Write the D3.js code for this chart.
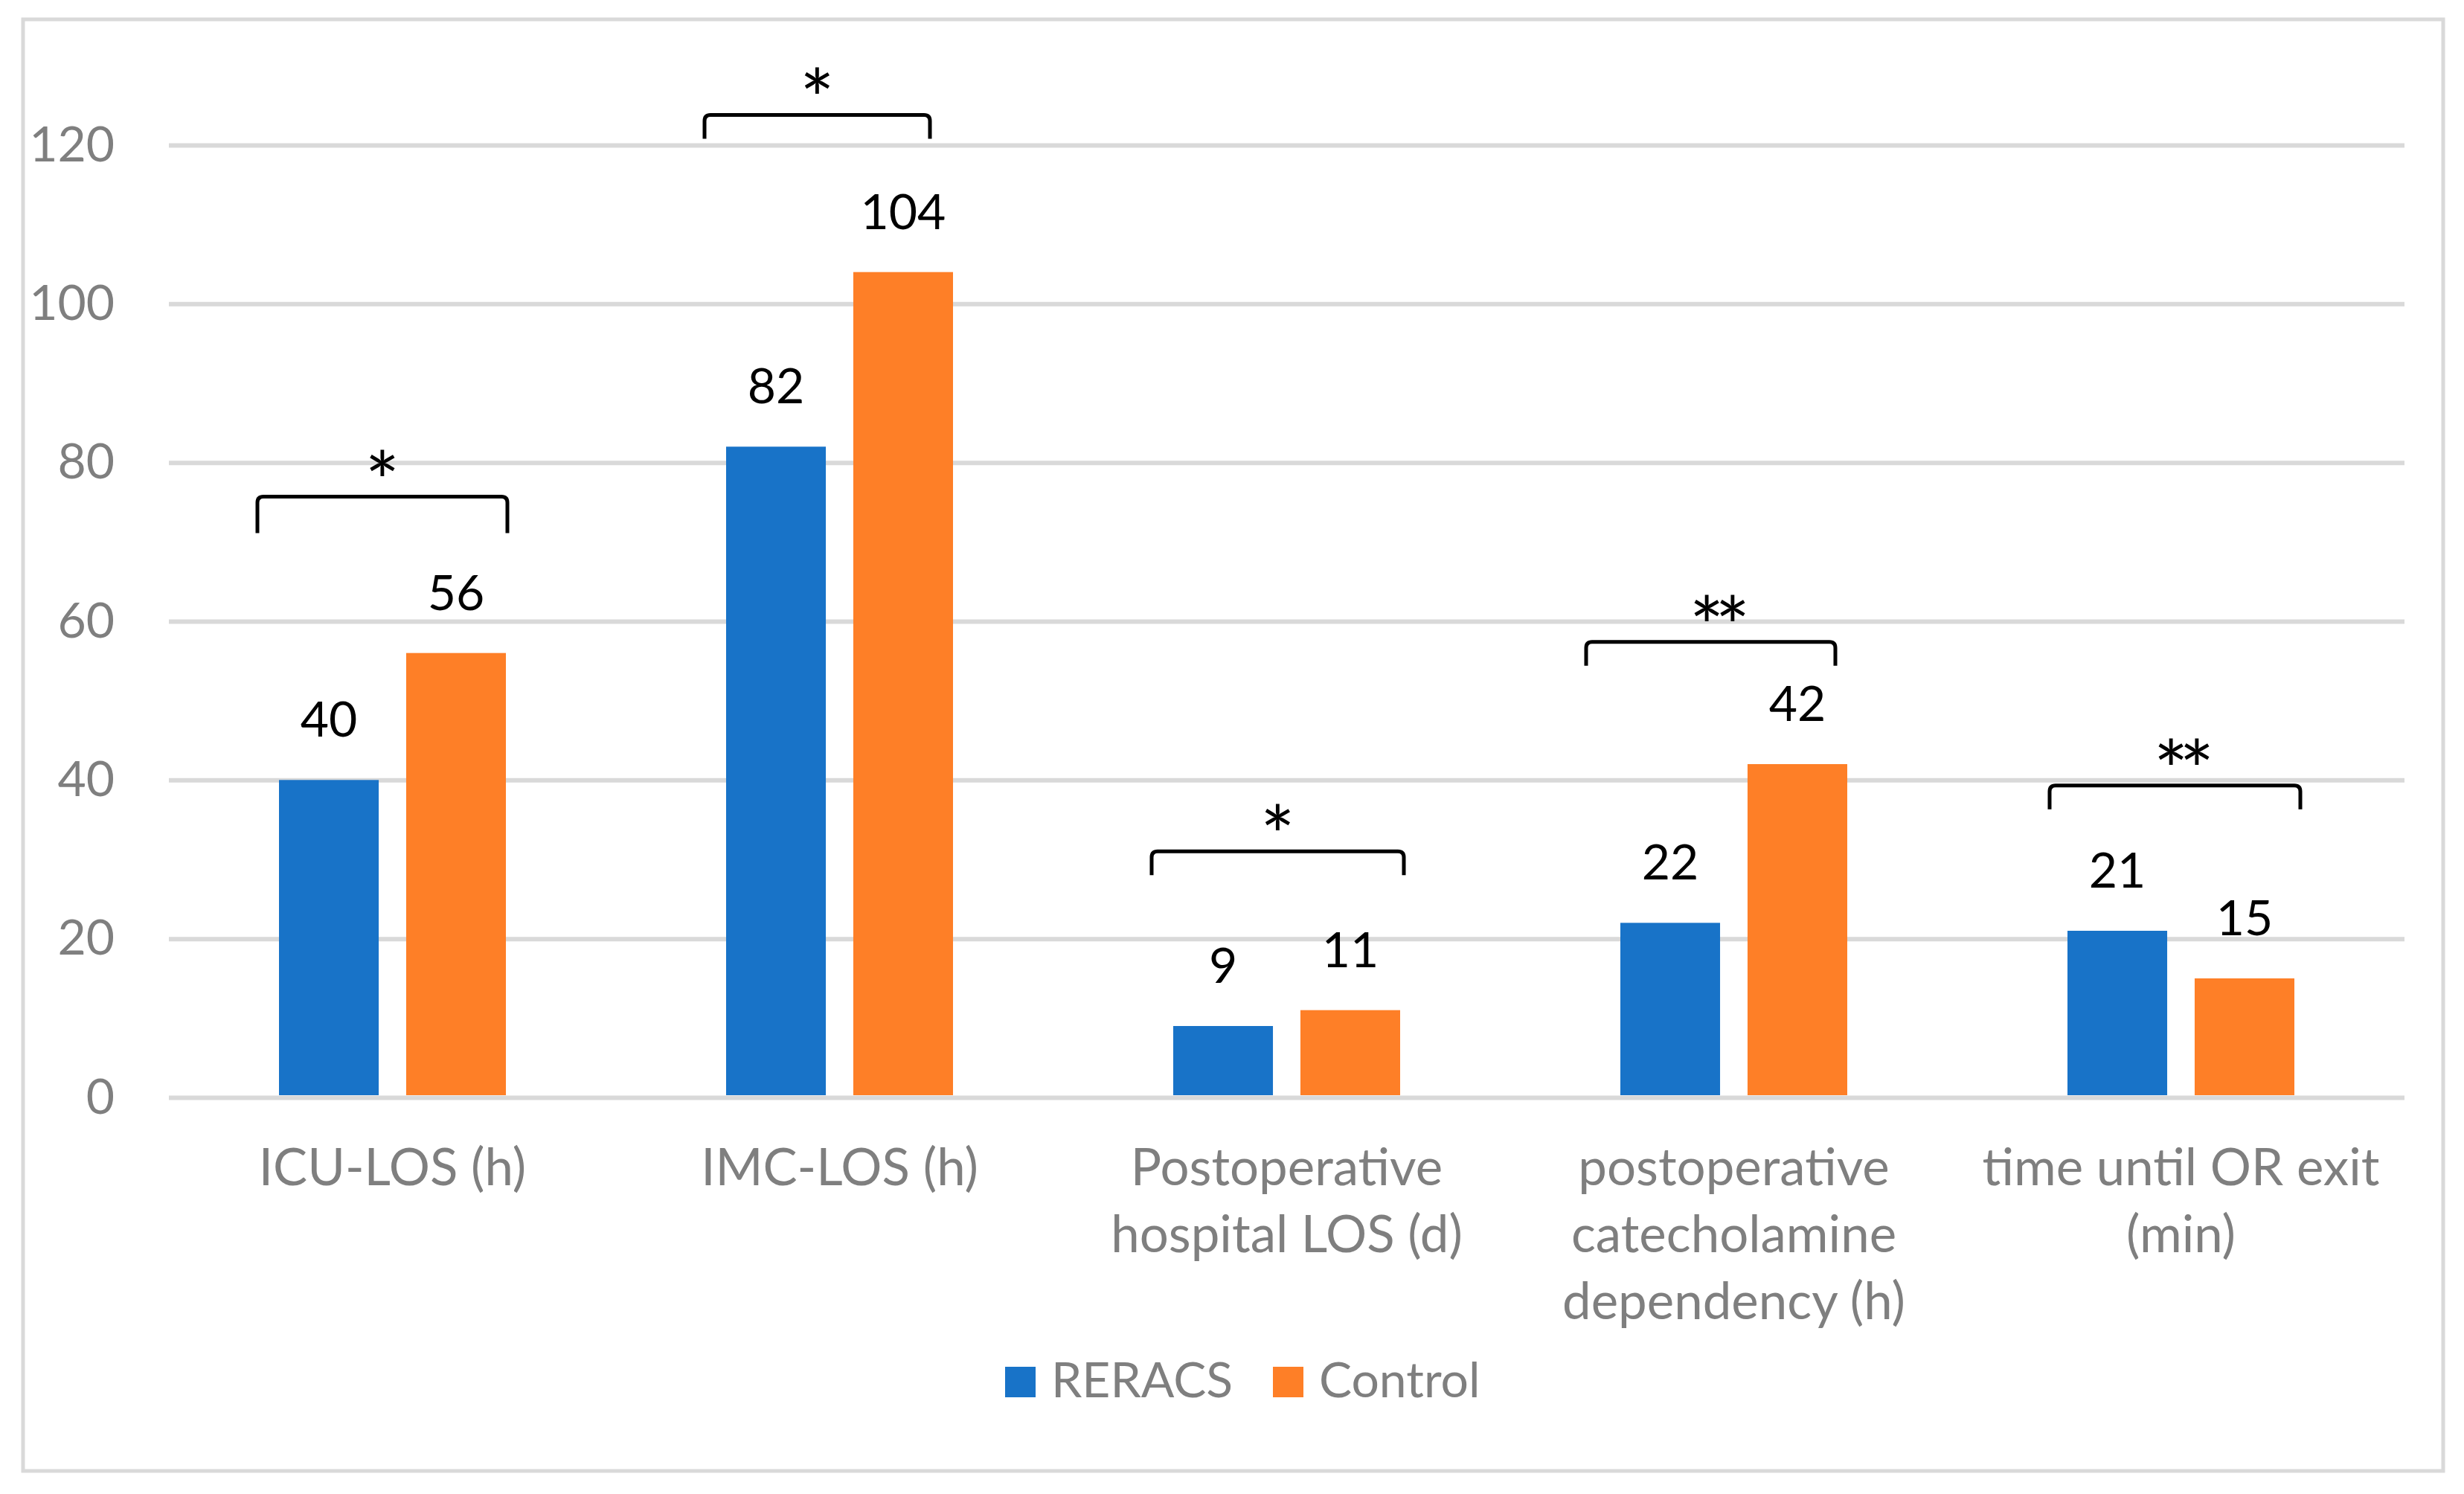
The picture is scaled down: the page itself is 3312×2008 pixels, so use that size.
<!DOCTYPE html>
<html>
<head>
<meta charset="utf-8">
<script src="https://cdn.jsdelivr.net/npm/d3@7"></script>
<style>
  html, body { margin: 0; padding: 0; background: #fff; }
  svg { display: block; }
</style>
</head>
<body>
<svg id="chart" width="3312" height="2008"></svg>
<script>
// chart values
var categories = ['ICU-LOS (h)', 'IMC-LOS (h)', 'Postoperative hospital LOS (d)',
  'postoperative catecholamine dependency (h)', 'time until OR exit (min)'];
var categoryLines = [
  ['ICU-LOS (h)'],
  ['IMC-LOS (h)'],
  ['Postoperative', 'hospital LOS (d)'],
  ['postoperative', 'catecholamine', 'dependency (h)'],
  ['time until OR exit', '(min)']
];
var series = ['RERACS', 'Control'];
var reracs = [40, 82, 9, 22, 21];
var control = [56, 104, 11, 42, 15];
var yTicks = [0, 20, 40, 60, 80, 100, 120];
// significance brackets: level in value units, marker text
var bracketLevel = [75.7, 123.8, 31.0, 57.4, 39.3];
var bracketStars = ['*', '*', '*', '**', '**'];

var colors = {RERACS: '#1873C8', Control: '#FE7F27'};
var FONT = 'Lato, "Open Sans", sans-serif';

var svg = d3.select('#chart');
svg.append('rect').attr('width', 3312).attr('height', 2008).attr('fill', '#fff');

// outer frame
svg.append('rect')
  .attr('x', 31).attr('y', 26).attr('width', 3253).attr('height', 1951)
  .attr('fill', 'none').attr('stroke', '#d9d9d9').attr('stroke-width', 5);

var left = 227, right = 3232;
var x0 = d3.scaleBand().domain(categories).range([left, right])
  .paddingInner(296 / 601).paddingOuter(148 / 601);
var x1 = d3.scaleBand().domain(series).range([0, x0.bandwidth()]).paddingInner(0.216);
var y = d3.scaleLinear().domain([0, 120]).range([1475, 195]);

// gridlines + tick labels
var yAxis = svg.append('g')
  .attr('transform', 'translate(' + left + ',0)')
  .call(d3.axisLeft(y).tickValues(yTicks).tickSize(-(right - left)).tickPadding(73));
yAxis.select('.domain').remove();
yAxis.selectAll('.tick line').attr('stroke', '#d9d9d9').attr('stroke-width', 6);
yAxis.selectAll('.tick text')
  .attr('fill', '#7f7f7f')
  .style('font-family', FONT)
  .style('font-size', '66px');

// bars
var rows = categories.map(function(c, i) {
  return {cat: c, values: [{key: 'RERACS', value: reracs[i]}, {key: 'Control', value: control[i]}]};
});

var groups = svg.selectAll('g.group').data(rows).enter().append('g')
  .attr('class', 'group')
  .attr('transform', function(d) { return 'translate(' + x0(d.cat) + ',0)'; });

groups.selectAll('rect').data(function(d) { return d.values; }).enter().append('rect')
  .attr('x', function(d) { return x1(d.key); })
  .attr('y', function(d) { return y(d.value); })
  .attr('width', x1.bandwidth())
  .attr('height', function(d) { return y(0) - 3 - y(d.value); })
  .attr('fill', function(d) { return colors[d.key]; });

// value labels
groups.selectAll('text.val').data(function(d) { return d.values; }).enter().append('text')
  .attr('class', 'val')
  .attr('x', function(d) { return x1(d.key) + x1.bandwidth() / 2; })
  .attr('y', function(d) { return y(d.value) - 58; })
  .attr('text-anchor', 'middle')
  .attr('fill', '#000')
  .style('font-family', FONT)
  .style('font-size', '66px')
  .text(function(d) { return d.value; });

// brackets (hand placed in the original, so each one has its own ends)
var legs = [49, 32, 32, 32, 32];
var padL = [-29, -29, -29, -46, -24];
var padR = [2, -31, 5, -16, 8];
rows.forEach(function(d, i) {
  var bl = x0(d.cat) + padL[i], br = x0(d.cat) + x0.bandwidth() + padR[i];
  var by = y(bracketLevel[i]);
  var r = 8;
  svg.append('path')
    .attr('d', 'M' + bl + ',' + (by + legs[i]) + 'V' + (by + r) +
      'Q' + bl + ',' + by + ' ' + (bl + r) + ',' + by +
      'H' + (br - r) + 'Q' + br + ',' + by + ' ' + br + ',' + (by + r) +
      'V' + (by + legs[i]))
    .attr('fill', 'none').attr('stroke', '#000').attr('stroke-width', 5);
  var tight = bracketStars[i].length > 1;
  svg.append('text')
    .attr('x', (bl + br) / 2 + (tight ? 6 : 0))
    .attr('y', by + 20)
    .attr('text-anchor', 'middle')
    .attr('fill', '#000')
    .style('font-family', FONT)
    .style('font-size', '110px')
    .style('letter-spacing', tight ? '-12px' : null)
    .text(bracketStars[i]);
});

// category labels
rows.forEach(function(d, i) {
  var cx = x0(d.cat) + x0.bandwidth() / 2;
  var t = svg.append('text')
    .attr('x', cx)
    .attr('y', 1593)
    .attr('text-anchor', 'middle')
    .attr('fill', '#7f7f7f')
    .style('font-family', FONT)
    .style('font-size', '69px');
  categoryLines[i].forEach(function(line, j) {
    t.append('tspan').attr('x', cx).attr('y', 1593 + j * 90).text(line);
  });
});

// legend
var legendX = [1351, 1711];
series.forEach(function(s, i) {
  svg.append('rect')
    .attr('x', legendX[i]).attr('y', 1837).attr('width', 41).attr('height', 41)
    .attr('fill', colors[s]);
  svg.append('text')
    .attr('x', legendX[i] + 62).attr('y', 1878)
    .attr('fill', '#7f7f7f')
    .style('font-family', FONT)
    .style('font-size', '66px')
    .text(s);
});
</script>
</body>
</html>
